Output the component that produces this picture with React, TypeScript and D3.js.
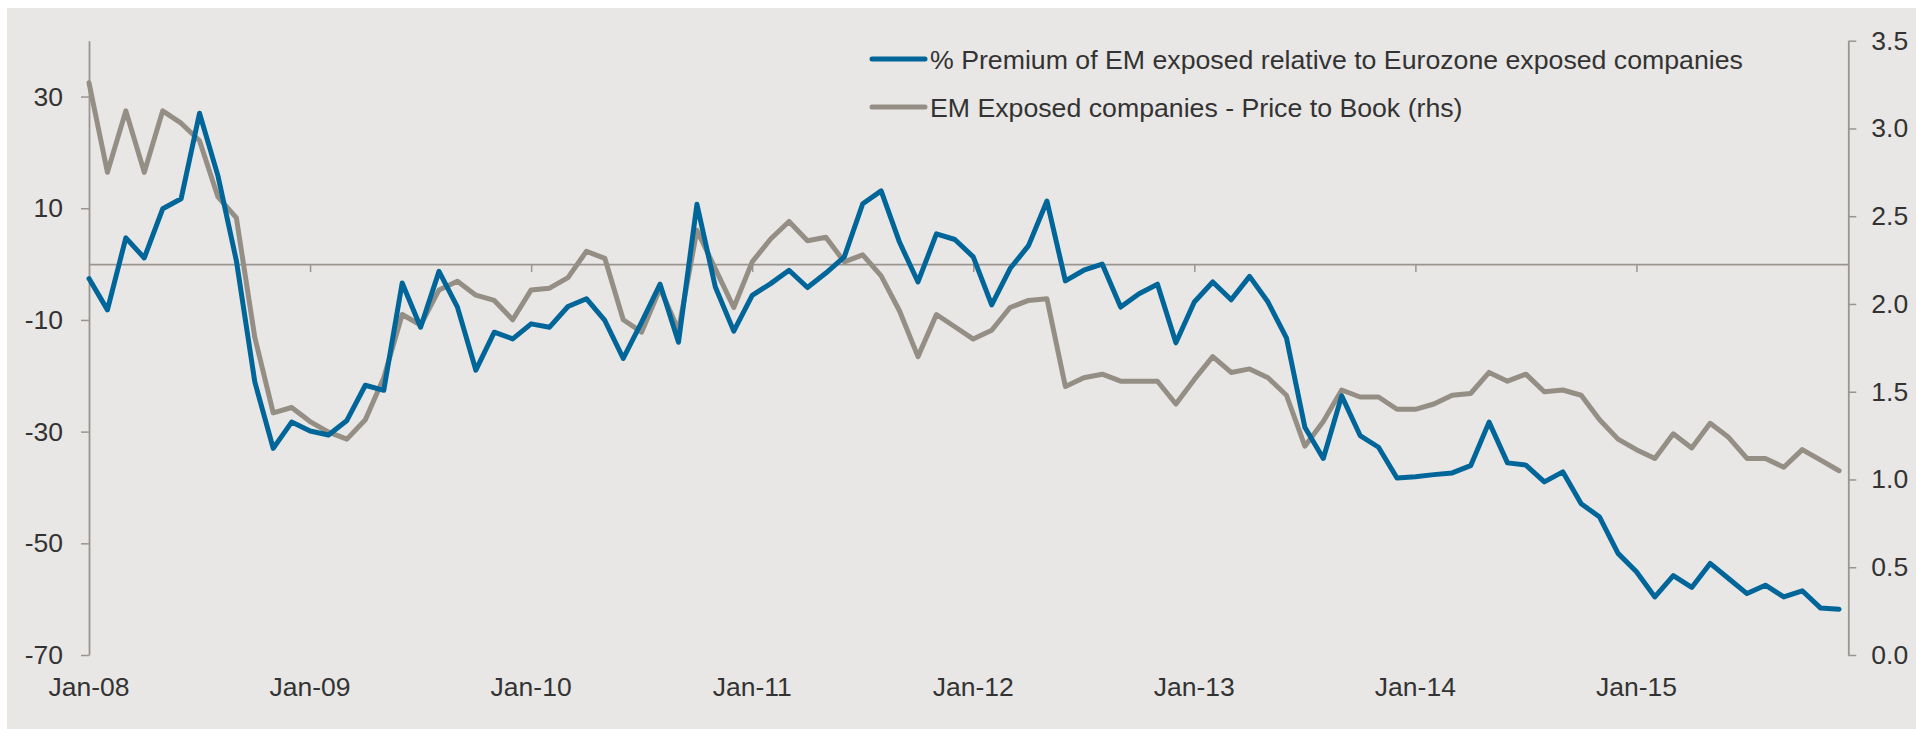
import * as d3 from 'd3';
import React, { useEffect, useRef } from 'react';

// monthly, Jan-08 .. Dec-15
const premium = [
  -2.6, -8.2, 4.7, 1.1, 9.9, 11.7, 27.0, 15.8, 0.6, -21.1, -33.0, -28.3,
  -29.9, -30.6, -28.0, -21.7, -22.6, -3.4, -11.3, -1.3, -7.7, -19.0, -12.2, -13.4,
  -10.7, -11.3, -7.6, -6.2, -10.1, -16.9, -10.4, -3.6, -14.0, 10.7, -4.1, -12.0,
  -5.6, -3.5, -1.1, -4.2, -1.6, 1.3, 10.8, 13.1, 3.9, -3.2, 5.4, 4.4,
  1.3, -7.3, -0.8, 3.3, 11.3, -3.0, -1.1, 0.0, -7.7, -5.3, -3.6, -14.1,
  -6.8, -3.2, -6.4, -2.2, -6.8, -13.2, -29.2, -34.8, -23.6, -30.7, -32.8, -38.3,
  -38.1, -37.7, -37.4, -36.1, -28.3, -35.6, -36.0, -39.0, -37.2, -42.9, -45.3, -51.8,
  -55.1, -59.6, -55.8, -57.9, -53.6, -56.3, -59.0, -57.5, -59.6, -58.5, -61.6, -61.8,
];

const priceToBook = [
  3.26, 2.75, 3.10, 2.75, 3.10, 3.03, 2.93, 2.61, 2.49, 1.81, 1.38, 1.41,
  1.33, 1.27, 1.23, 1.34, 1.58, 1.94, 1.88, 2.08, 2.13, 2.05, 2.02, 1.91,
  2.08, 2.09, 2.15, 2.30, 2.26, 1.91, 1.84, 2.09, 1.85, 2.42, 2.20, 1.98,
  2.24, 2.37, 2.47, 2.36, 2.38, 2.24, 2.28, 2.16, 1.96, 1.70, 1.94, 1.87,
  1.80, 1.85, 1.98, 2.02, 2.03, 1.53, 1.58, 1.60, 1.56, 1.56, 1.56, 1.43,
  1.57, 1.70, 1.61, 1.63, 1.58, 1.48, 1.19, 1.33, 1.51, 1.47, 1.47, 1.40,
  1.40, 1.43, 1.48, 1.49, 1.61, 1.56, 1.60, 1.50, 1.51, 1.48, 1.34, 1.23,
  1.17, 1.12, 1.26, 1.18, 1.32, 1.24, 1.12, 1.12, 1.07, 1.17, 1.11, 1.05,
];

const yearLabels = ['Jan-08', 'Jan-09', 'Jan-10', 'Jan-11', 'Jan-12', 'Jan-13', 'Jan-14', 'Jan-15'];
const leftTicks = [-70, -50, -30, -10, 10, 30];
const rightTicks = [0, 0.5, 1, 1.5, 2, 2.5, 3, 3.5];
const seriesNames = [
  '% Premium of EM exposed relative to Eurozone exposed companies',
  'EM Exposed companies - Price to Book (rhs)',
];

const BLUE = '#006699';
const GREY = '#958E85';
const AXIS = '#9A958F';
const TEXT = '#333333';
const FONT = '"Liberation Sans", Arial, sans-serif';

function Chart() {
  const ref = useRef<SVGSVGElement>(null);

  useEffect(() => {
    const svg = d3.select(ref.current);
    svg.selectAll('*').remove();

    const W = 1916, H = 729;
    const left = 89, right = 1848.3, top = 40.7, bottom = 655;

    svg.append('rect').attr('width', W).attr('height', H).attr('fill', '#ffffff');
    svg.append('rect').attr('x', 7).attr('y', 8).attr('width', W - 7).attr('height', H - 8).attr('fill', '#E8E7E5');

    const x = d3.scaleLinear().domain([0, 95.5]).range([left, right]);
    const yL = d3.scaleLinear().domain([-70, 40]).range([bottom, top]);
    const yR = d3.scaleLinear().domain([0, 3.5]).range([bottom, top]);

    // left axis
    const gl = svg.append('g').attr('transform', `translate(${left},0)`)
      .call(d3.axisLeft(yL).tickValues(leftTicks).tickSize(8).tickSizeOuter(0).tickPadding(18).tickFormat((d) => String(d)));
    // right axis
    const gr = svg.append('g').attr('transform', `translate(${right},0)`)
      .call(d3.axisRight(yR).tickValues(rightTicks).tickSize(8).tickSizeOuter(0).tickPadding(15).tickFormat(d3.format('.1f')));
    // zero line with year ticks
    const gx = svg.append('g').attr('transform', `translate(0,${yL(0)})`)
      .call(d3.axisBottom(x).tickValues(yearLabels.map((_, i) => i * 12).slice(1)).tickSize(8).tickSizeOuter(0).tickFormat(() => ''));

    [gl, gr, gx].forEach((g) => {
      g.select('.domain').attr('stroke', AXIS).attr('stroke-width', 1.8);
      g.selectAll('.tick line').attr('stroke', AXIS).attr('stroke-width', 1.5);
      g.selectAll('text').attr('fill', TEXT).style('font-family', FONT).style('font-size', '26.5px');
    });

    // year labels
    svg.append('g').selectAll('text')
      .data(yearLabels)
      .enter().append('text')
      .attr('x', (d, i) => x(i * 12))
      .attr('y', 696)
      .attr('text-anchor', 'middle')
      .attr('fill', TEXT)
      .style('font-family', FONT)
      .style('font-size', '26.5px')
      .text((d) => d);

    const lineL = d3.line<number>().x((d, i) => x(i)).y((d) => yL(d));
    const lineR = d3.line<number>().x((d, i) => x(i)).y((d) => yR(d));

    svg.append('path').datum(priceToBook)
      .attr('d', lineR).attr('fill', 'none').attr('stroke', GREY)
      .attr('stroke-width', 5).attr('stroke-linejoin', 'round').attr('stroke-linecap', 'round');
    svg.append('path').datum(premium)
      .attr('d', lineL).attr('fill', 'none').attr('stroke', BLUE)
      .attr('stroke-width', 5).attr('stroke-linejoin', 'round').attr('stroke-linecap', 'round');

    // legend
    const legend = svg.append('g');
    const colors = [BLUE, GREY];
    seriesNames.forEach((name, i) => {
      const cy = 59 + i * 48;
      legend.append('line')
        .attr('x1', 872).attr('x2', 925).attr('y1', cy).attr('y2', cy)
        .attr('stroke', colors[i]).attr('stroke-width', 5).attr('stroke-linecap', 'round');
      legend.append('text')
        .attr('x', 930).attr('y', cy + 9.6)
        .attr('fill', TEXT)
        .style('font-family', FONT)
        .style('font-size', '26.7px')
        .text(name);
    });
  }, []);

  return <svg ref={ref} width={1916} height={729} style={{ position: 'absolute', left: 0, top: 0, display: 'block' }} />;
}

export default function App() {
  return <Chart />;
}
